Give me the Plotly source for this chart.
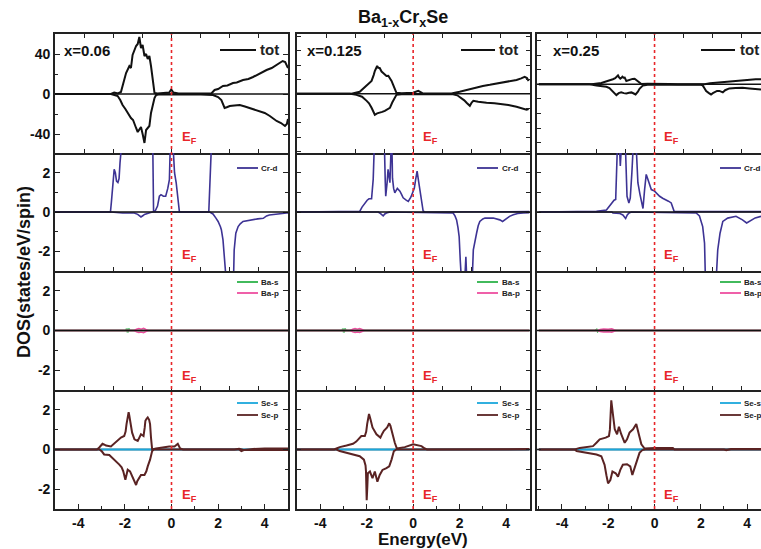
import plotly.graph_objects as go

# ---------------- data (energy in eV, DOS) ----------------
EF = 0.0
COLUMN_LABELS = ["x=0.06", "x=0.125", "x=0.25"]
TITLE = "Ba<sub>1-x</sub>Cr<sub>x</sub>Se"
X_TICKS = [-4, -2, 0, 2, 4]
X_TICK_TEXT = ["-4", "-2", "0", "2", "4"]
TOT_TICKS = [-40, 0, 40]
TOT_TICK_TEXT = ["-40", "0", "40"]
PDOS_TICKS = [-2, 0, 2]
PDOS_TICK_TEXT = ["-2", "0", "2"]

# total DOS, x = 0.06
tot_006_up = [(-5, 0), (-2.6, 0), (-2.46, 1.5), (-2.3, 0.5), (-2.17, 2), (-2.1, 9), (-1.95, 21), (-1.81, 28), (-1.74, 26),
              (-1.67, 39), (-1.52, 48), (-1.45, 50), (-1.38, 57), (-1.31, 46), (-1.24, 49), (-1.16, 38), (-1.09, 40),
              (-1.02, 35), (-0.95, 38), (-0.88, 28), (-0.81, 14), (-0.73, 1), (-0.6, 0.5), (-0.3, 0.8), (-0.1, 1.5),
              (-0.01, 4.5), (0.08, 1.5), (0.3, 0.5), (1.0, 0.3), (1.71, 0.5), (1.85, 4), (2.0, 5), (2.21, 8), (2.4, 8.5),
              (2.64, 11), (2.8, 11.5), (3.07, 14), (3.3, 15), (3.5, 17), (3.65, 19), (3.85, 21), (4.08, 24), (4.3, 26),
              (4.51, 29), (4.65, 31), (4.77, 33), (4.88, 32), (5.0, 26)]
tot_006_dn = [(-5, 0), (-2.6, 0), (-2.45, -1), (-2.31, -2), (-2.2, -6), (-2.1, -11), (-1.98, -15), (-1.88, -19), (-1.74, -24),
              (-1.65, -26), (-1.59, -29), (-1.52, -34), (-1.45, -38), (-1.38, -36), (-1.31, -33), (-1.23, -41), (-1.16, -49),
              (-1.09, -36), (-1.02, -34), (-0.95, -32), (-0.88, -19), (-0.8, -10), (-0.73, -4), (-0.66, -1), (-0.5, -0.3),
              (0, -0.5), (1.0, -0.3), (1.78, -1), (2.0, -3), (2.14, -6), (2.28, -14), (2.4, -13), (2.5, -12), (2.7, -11.5),
              (2.93, -11), (3.15, -12.5), (3.36, -14), (3.6, -15.5), (3.79, -17), (4.0, -19), (4.22, -22), (4.4, -25),
              (4.51, -27), (4.7, -29), (4.87, -32), (4.95, -30), (5.0, -25)]
# total DOS, x = 0.125
tot_0125_up = [(-5, 0), (-2.7, 0), (-2.3, 2.8), (-2.15, 7), (-2.0, 12.4), (-1.88, 15), (-1.79, 17.9), (-1.7, 26), (-1.65, 31.7),
               (-1.55, 38.6), (-1.5, 36), (-1.44, 35.9), (-1.36, 31), (-1.29, 29), (-1.22, 27), (-1.15, 24.8), (-1.07, 25),
               (-1.0, 22.1), (-0.93, 18), (-0.86, 12.4), (-0.78, 5), (-0.72, 1.4), (-0.5, 0.8), (0, 1.5), (0.22, 4.1),
               (0.4, 1), (1.0, 0.5), (1.65, 0.5), (2.0, 3), (2.3, 5.5), (2.6, 7.5), (3.0, 11), (3.3, 12.5), (3.74, 15.2),
               (4.1, 17), (4.45, 19.3), (4.65, 21.5), (4.8, 23.5), (4.9, 22), (4.97, 17.9)]
tot_0125_dn = [(-5, 0), (-2.7, 0), (-2.44, -1.4), (-2.2, -4), (-2.0, -9.7), (-1.9, -13), (-1.79, -19.3), (-1.72, -25),
               (-1.65, -29), (-1.55, -27), (-1.44, -26.2), (-1.33, -25), (-1.22, -23.5), (-1.1, -21), (-1.0, -19.3),
               (-0.9, -12), (-0.79, -5.5), (-0.72, -1.4), (-0.5, -0.5), (1.72, -0.5), (1.9, -2), (2.08, -5.5), (2.2, -9),
               (2.3, -12.4), (2.44, -16.6), (2.52, -12), (2.59, -9.7), (2.8, -11), (3.0, -12), (3.16, -12.4), (3.5, -13),
               (3.74, -13.8), (4.1, -15.5), (4.45, -17.9), (4.7, -20), (4.88, -22.1), (4.97, -21)]
# total DOS, x = 0.25
tot_025_up = [(-5, 0), (-2.8, 0), (-2.3, 2), (-2.01, 4.6), (-1.8, 7), (-1.7, 8.5), (-1.62, 10.6), (-1.58, 12.4), (-1.54, 10),
              (-1.48, 7.8), (-1.43, 9), (-1.39, 10.6), (-1.34, 9), (-1.29, 9.2), (-1.22, 4.6), (-1.15, 5.5), (-1.08, 6.9),
              (-0.95, 7.5), (-0.86, 7.8), (-0.72, 4.6), (-0.57, 0.5), (-0.3, 0.8), (0.3, 1), (0.65, 0.5), (1.0, 0.2),
              (2.16, 0.3), (2.4, 1.5), (2.66, 2.3), (3.0, 2.8), (3.23, 3.2), (3.5, 4.5), (3.8, 5.5), (4.1, 6.2),
              (4.37, 6.9), (4.6, 7)]
tot_025_dn = [(-5, 0), (-2.8, 0), (-2.51, -1.4), (-2.3, -2), (-2.08, -3.2), (-1.95, -5), (-1.8, -9.2), (-1.72, -12),
              (-1.65, -14.7), (-1.55, -12), (-1.44, -11), (-1.33, -12), (-1.22, -12.4), (-1.1, -11.5), (-1.0, -11),
              (-0.9, -12.5), (-0.82, -13.8), (-0.72, -10), (-0.65, -6), (-0.5, -1.4), (-0.3, -0.5), (2.0, -0.5),
              (2.08, -1.4), (2.15, -5), (2.23, -9.2), (2.35, -12), (2.44, -13.8), (2.52, -12), (2.59, -10.6), (2.7, -9),
              (2.8, -9), (2.95, -11), (3.05, -8), (3.23, -5.5), (3.5, -5), (3.8, -4.6), (4.1, -5.5), (4.5, -6.9), (4.6, -7)]

# Cr-d PDOS
crd_006_up = [(-5, 0), (-2.62, 0), (-2.58, 0.5), (-2.53, 1.14), (-2.46, 2.17), (-2.41, 2.0), (-2.36, 1.57), (-2.3, 1.5),
              (-2.25, 1.7), (-2.21, 2.5), (-2.16, 3.5), (-2.1, 6), (-1.8, 8), (-1.4, 9), (-1.0, 7), (-0.82, 5), (-0.79, 2),
              (-0.77, 0.05), (-0.7, 0.05), (-0.6, 0.3), (-0.52, 0.8), (-0.45, 0.88), (-0.35, 0.8), (-0.25, 0.8),
              (-0.16, 1.2), (-0.09, 1.65), (-0.05, 3.5), (-0.03, 6), (0.03, 6), (0.06, 3.5), (0.1, 2.4), (0.13, 2.0),
              (0.2, 1.5), (0.27, 0.7), (0.34, 0), (1.6, 0), (1.64, 1), (1.7, 3.5), (1.8, 6), (2.5, 8), (3.5, 7), (5, 6)]
crd_006_dn = [(-5, 0), (-2.6, 0), (-2.1, -0.05), (-1.6, -0.05), (-1.45, -0.12), (-1.38, -0.18), (-1.31, -0.25),
              (-1.22, -0.18), (-1.16, -0.12), (-0.9, -0.03), (-0.8, 0), (1.64, 0), (1.72, -0.05), (1.78, -0.1), (1.9, -0.3),
              (2.0, -0.48), (2.1, -0.75), (2.14, -0.9), (2.21, -1.42), (2.28, -2.6), (2.33, -3.5), (2.45, -5), (2.6, -4.5),
              (2.66, -3.5), (2.69, -1.93), (2.76, -1.08), (2.86, -0.74), (2.95, -0.6), (3.07, -0.48), (3.3, -0.42),
              (3.5, -0.4), (3.7, -0.35), (3.94, -0.32), (4.08, -0.2), (4.2, -0.15), (4.37, -0.12), (4.6, -0.08),
              (4.94, -0.05), (5, -0.05)]
crd_0125_up = [(-5, 0), (-2.5, 0), (-2.3, 0.03), (-2.2, 0.25), (-2.08, 0.46), (-1.98, 0.6), (-1.9, 0.67), (-1.79, 0.67),
               (-1.72, 1.66), (-1.68, 3.5), (-1.6, 6), (-1.4, 6), (-1.25, 4), (-1.2, 1.5), (-1.18, 0.8), (-1.12, 1.5),
               (-1.08, 2.17), (-1.0, 1.49), (-0.95, 3.5), (-0.93, 4), (-0.9, 2.5), (-0.89, 1.72), (-0.84, 1.2),
               (-0.79, 0.97), (-0.68, 1.2), (-0.57, 1.06), (-0.5, 0.9), (-0.43, 0.72), (-0.3, 0.6), (-0.21, 0.54),
               (-0.1, 0.75), (-0.03, 0.97), (0.05, 1.2), (0.1, 1.6), (0.17, 2.08), (0.23, 1.6), (0.29, 1.14), (0.36, 0.5),
               (0.43, 0.05), (0.5, 0), (5, 0.02)]
crd_0125_dn = [(-5, 0), (-1.5, 0), (-1.44, -0.05), (-1.35, -0.12), (-1.29, -0.2), (-1.22, -0.1), (-1.15, -0.05), (-1.0, 0),
               (1.72, -0.05), (1.8, -0.2), (1.87, -0.4), (1.93, -0.8), (1.98, -1.25), (2.03, -2.5), (2.08, -3.5), (2.2, -4),
               (2.24, -3.2), (2.27, -2.28), (2.3, -3.2), (2.33, -4), (2.5, -4), (2.55, -3.2), (2.59, -1.93), (2.66, -1.4),
               (2.73, -1.08), (2.8, -0.7), (2.87, -0.48), (3.0, -0.35), (3.09, -0.31), (3.45, -0.31), (3.6, -0.35),
               (3.73, -0.4), (3.85, -0.48), (3.95, -0.38), (4.02, -0.31), (4.15, -0.22), (4.31, -0.14), (4.5, -0.08),
               (4.74, -0.05), (5, -0.03)]
crd_025_up = [(-5, 0), (-2.51, 0.03), (-2.08, 0.1), (-1.95, 0.3), (-1.87, 0.46), (-1.75, 0.6), (-1.68, 0.64), (-1.64, 2),
              (-1.61, 3.5), (-1.56, 5), (-1.51, 3.2), (-1.48, 2.34), (-1.44, 3.2), (-1.41, 5), (-1.3, 5), (-1.25, 3),
              (-1.19, 0.8), (-1.11, 0.46), (-1.05, 0.7), (-0.98, 2), (-0.93, 3.5), (-0.85, 5), (-0.78, 3), (-0.72, 1.49),
              (-0.63, 0.9), (-0.57, 0.63), (-0.5, 0.18), (-0.43, 1.14), (-0.36, 1.91), (-0.3, 1.7), (-0.25, 1.49),
              (-0.14, 1.14), (0, 1.06), (0.1, 0.92), (0.22, 0.8), (0.35, 0.7), (0.5, 0.63), (0.6, 0.55), (0.72, 0.46),
              (0.8, 0.2), (0.85, 0.02), (4.6, 0.02)]
crd_025_dn = [(-5, 0), (-1.85, 0), (-1.8, -0.05), (-1.5, -0.08), (-1.37, -0.15), (-1.3, -0.25), (-1.25, -0.33),
              (-1.18, -0.15), (-1.1, -0.05), (-1.0, 0), (1.8, -0.05), (1.94, -0.2), (2.02, -0.45), (2.08, -0.74),
              (2.16, -1.59), (2.2, -3.5), (2.4, -4), (2.66, -3.5), (2.73, -1.93), (2.83, -1.08), (2.95, -0.48),
              (3.16, -0.31), (3.52, -0.22), (3.7, -0.32), (3.8, -0.4), (3.98, -0.56), (4.08, -0.48), (4.17, -0.4),
              (4.35, -0.3), (4.6, -0.22)]

# Ba-s / Ba-p PDOS
bas_006 = [(-5, 0), (-1.95, 0), (-1.92, 0.08), (-1.88, -0.08), (-1.84, 0.08), (-1.8, 0), (5, 0)]
bap_006_up = [(-5, 0), (-1.6, 0), (-1.5, 0.06), (-1.4, 0.1), (-1.3, 0.07), (-1.2, 0.11), (-1.1, 0.05), (-1.0, 0), (5, 0)]
bap_006_dn = [(-5, 0), (-1.6, 0), (-1.5, -0.07), (-1.4, -0.1), (-1.3, -0.08), (-1.2, -0.11), (-1.1, -0.05), (-1.0, 0), (5, 0)]
bas_0125 = [(-5, 0), (-3.05, 0), (-3.02, 0.08), (-2.98, -0.08), (-2.94, 0.08), (-2.9, 0), (5, 0)]
bap_0125_up = [(-5, 0), (-2.7, 0), (-2.6, 0.06), (-2.5, 0.1), (-2.4, 0.07), (-2.3, 0.1), (-2.2, 0.05), (-2.1, 0), (5, 0)]
bap_0125_dn = [(-5, 0), (-2.7, 0), (-2.6, -0.07), (-2.5, -0.1), (-2.4, -0.08), (-2.3, -0.1), (-2.2, -0.05), (-2.1, 0), (5, 0)]
bas_025 = [(-5, 0), (-2.55, 0), (-2.5, 0.04), (-2.46, -0.04), (-2.42, 0), (4.6, 0)]
bap_025_up = [(-5, 0), (-2.45, 0), (-2.35, 0.05), (-2.2, 0.08), (-2.0, 0.06), (-1.85, 0.09), (-1.75, 0.04), (-1.65, 0), (4.6, 0)]
bap_025_dn = [(-5, 0), (-2.45, 0), (-2.35, -0.05), (-2.2, -0.08), (-2.0, -0.06), (-1.85, -0.09), (-1.75, -0.04), (-1.65, 0), (4.6, 0)]

# Se-s / Se-p PDOS
ses_006 = [(-5, 0), (-3.0, 0), (-2.0, -0.01), (-1.0, 0), (5, 0)]
sep_006_up = [(-5, 0), (-3.2, 0), (-3.1, 0.1), (-2.96, 0.29), (-2.88, 0.25), (-2.81, 0.2), (-2.6, 0.15), (-2.5, 0.25),
              (-2.38, 0.35), (-2.25, 0.5), (-2.17, 0.6), (-2.03, 0.68), (-1.97, 0.9), (-1.93, 1.28), (-1.87, 1.7),
              (-1.84, 1.88), (-1.81, 1.7), (-1.78, 1.45), (-1.69, 0.85), (-1.59, 0.51), (-1.45, 0.43), (-1.38, 0.6),
              (-1.31, 0.77), (-1.25, 0.72), (-1.2, 0.68), (-1.15, 1.1), (-1.12, 1.45), (-1.07, 1.55), (-1.02, 1.62),
              (-0.96, 1.5), (-0.92, 1.28), (-0.88, 0.6), (-0.83, 0), (-0.66, 0.05), (-0.4, 0.1), (-0.1, 0.15),
              (0.13, 0.15), (0.27, 0.29), (0.37, 0.05), (0.5, 0), (2.7, 0), (2.9, 0.04), (3.1, -0.02), (3.5, 0.03),
              (4.0, 0.05), (4.5, 0.04), (5, 0.05)]
sep_006_dn = [(-5, 0), (-3.1, 0), (-3.0, -0.08), (-2.89, -0.25), (-2.67, -0.28), (-2.46, -0.5), (-2.35, -0.6), (-2.24, -0.76),
              (-2.14, -0.9), (-2.07, -1.1), (-1.98, -1.53), (-1.93, -1.2), (-1.88, -1.02), (-1.78, -1.1), (-1.7, -1.3),
              (-1.64, -1.45), (-1.57, -1.6), (-1.52, -1.79), (-1.47, -1.6), (-1.41, -1.45), (-1.31, -1.28), (-1.16, -1.28),
              (-1.08, -1.1), (-1.02, -0.85), (-0.92, -0.51), (-0.83, -0.08), (-0.75, 0), (2.9, 0), (3.0, -0.08),
              (3.1, -0.03), (4, -0.04), (5, -0.02)]
ses_0125 = [(-5, 0), (-3.2, 0), (-2.0, -0.01), (-0.8, 0), (5, 0)]
sep_0125_up = [(-5, 0), (-3.4, 0), (-3.3, 0.05), (-3.16, 0.12), (-2.87, 0.2), (-2.59, 0.29), (-2.45, 0.4), (-2.37, 0.51),
               (-2.23, 0.68), (-2.08, 0.68), (-2.02, 0.9), (-1.98, 1.28), (-1.93, 1.6), (-1.9, 1.79), (-1.84, 1.54),
               (-1.75, 1.11), (-1.58, 0.77), (-1.41, 0.6), (-1.33, 0.8), (-1.26, 0.94), (-1.12, 1.11), (-1.03, 1.32),
               (-0.98, 1.2), (-0.93, 0.94), (-0.86, 0.6), (-0.79, 0.34), (-0.7, 0.05), (-0.36, 0.12), (0, 0.26),
               (0.22, 0.2), (0.36, 0.17), (0.5, 0.05), (0.6, 0), (5, 0.02)]
sep_0125_dn = [(-5, 0), (-3.3, 0), (-3.16, -0.08), (-2.87, -0.17), (-2.59, -0.25), (-2.3, -0.34), (-2.12, -0.51),
               (-2.05, -0.8), (-2.03, -1.11), (-2.0, -2.56), (-1.97, -1.8), (-1.95, -1.2), (-1.86, -1.11), (-1.75, -1.45),
               (-1.65, -1.11), (-1.54, -1.62), (-1.44, -1.28), (-1.32, -1.03), (-1.15, -0.94), (-1.03, -0.85),
               (-0.93, -0.51), (-0.83, -0.08), (-0.72, 0), (5, 0)]
ses_025 = [(-5, 0), (-3.4, 0), (-2.0, -0.01), (-0.5, 0), (4.6, 0)]
sep_025_up = [(-5, 0), (-3.45, 0), (-3.23, 0.08), (-2.94, 0.12), (-2.66, 0.17), (-2.5, 0.35), (-2.37, 0.51), (-2.11, 0.6),
              (-1.97, 0.68), (-1.93, 1.0), (-1.91, 1.45), (-1.87, 2.48), (-1.8, 1.79), (-1.72, 1.02), (-1.62, 0.77),
              (-1.54, 1.15), (-1.44, 0.77), (-1.29, 0.34), (-1.19, 0.51), (-1.08, 0.85), (-0.93, 1.02), (-0.79, 1.28),
              (-0.68, 0.77), (-0.57, 0.26), (-0.43, 0.05), (0, 0.08), (0.79, 0.08), (0.86, 0), (3.0, 0), (3.1, -0.04),
              (3.3, 0.02), (4, 0.03), (4.6, 0.03)]
sep_025_dn = [(-5, 0), (-3.45, 0), (-3.37, -0.08), (-2.94, -0.17), (-2.51, -0.25), (-2.3, -0.34), (-2.16, -0.77),
              (-2.08, -1.3), (-2.01, -1.71), (-1.91, -1.54), (-1.82, -1.11), (-1.68, -1.2), (-1.58, -1.37), (-1.48, -1.03),
              (-1.37, -0.77), (-1.19, -0.74), (-1.05, -0.85), (-0.96, -1.28), (-0.86, -0.94), (-0.76, -0.51),
              (-0.65, -0.17), (-0.53, -0.03), (-0.4, 0), (4.6, 0)]

# ---------------- styling ----------------
C_TOT = "#111111"
C_CRD = "#3d3394"
C_BAS = "#2db34a"
C_BAP = "#ee4fa0"
C_SES = "#1aa7dc"
C_SEP = "#5a2323"
C_EF = "#e8262a"
AX = "#222222"
FONT = "Arial, Liberation Sans, sans-serif"

W, H = 761, 549
ML, MR, MT, MB = 55, 0, 34, 40
PW, PH = W - ML - MR, H - MT - MB


def px_x(p):
    return (p - ML) / PW


def px_y(p):
    return (H - MB - p) / PH


COL_PX = [(55, 288), (297, 530), (537, 761)]
ROW_PX = [(34, 153), (153, 271), (271, 390), (390, 509)]
X_RANGES = [[-5, 5], [-5, 5.03], [-5.08, 4.6]]
TOT_RANGES = [[-59, 60], [-82, 83], [-94, 69]]


def aid(r, c):
    n = r * 3 + c + 1
    return "" if n == 1 else str(n)


fig = go.Figure()


def add_curve(pts, r, c, color, width):
    i = aid(r, c)
    fig.add_trace(go.Scatter(x=[p[0] for p in pts], y=[p[1] for p in pts], mode="lines",
                             line=dict(color=color, width=width), xaxis="x" + i, yaxis="y" + i,
                             showlegend=False, hoverinfo="skip"))


panels = [
    [[(tot_006_up, C_TOT, 2), (tot_006_dn, C_TOT, 2)],
     [(tot_0125_up, C_TOT, 2), (tot_0125_dn, C_TOT, 2)],
     [(tot_025_up, C_TOT, 2), (tot_025_dn, C_TOT, 2)]],
    [[(crd_006_dn, C_CRD, 1.6), (crd_006_up, C_CRD, 1.6)],
     [(crd_0125_dn, C_CRD, 1.6), (crd_0125_up, C_CRD, 1.6)],
     [(crd_025_dn, C_CRD, 1.6), (crd_025_up, C_CRD, 1.6)]],
    [[(bas_006, C_BAS, 2.2), (bap_006_up, C_BAP, 1.5), (bap_006_dn, C_BAP, 1.5)],
     [(bas_0125, C_BAS, 2.2), (bap_0125_up, C_BAP, 1.5), (bap_0125_dn, C_BAP, 1.5)],
     [(bas_025, C_BAS, 2.2), (bap_025_up, C_BAP, 1.5), (bap_025_dn, C_BAP, 1.5)]],
    [[(ses_006, C_SES, 1.8), (sep_006_up, C_SEP, 2), (sep_006_dn, C_SEP, 2)],
     [(ses_0125, C_SES, 1.8), (sep_0125_up, C_SEP, 2), (sep_0125_dn, C_SEP, 2)],
     [(ses_025, C_SES, 1.8), (sep_025_up, C_SEP, 2), (sep_025_dn, C_SEP, 2)]],
]

for r in range(4):
    for c in range(3):
        for pts, color, width in panels[r][c]:
            add_curve(pts, r, c, color, width)

layout_axes = {}
shapes = []
annotations = []
tickfont = dict(family=FONT, size=14, color="#111", weight="bold")

for r in range(4):
    for c in range(3):
        i = aid(r, c)
        x0, x1 = COL_PX[c]
        y0, y1 = ROW_PX[r]
        xdom = [max(0, px_x(x0)), min(1, px_x(x1))]
        ydom = [max(0, px_y(y1)), min(1, px_y(y0))]
        xa = dict(domain=xdom, range=X_RANGES[c], anchor="y" + i, showline=True, linecolor=AX, linewidth=1.7,
                  ticks="inside", ticklen=4, tickwidth=1.2, tickcolor=AX, showgrid=False, zeroline=False,
                  tickfont=tickfont, fixedrange=True)
        if r == 3:
            xa.update(mirror=False, tickmode="array", tickvals=X_TICKS, ticktext=X_TICK_TEXT,
                      showticklabels=True, ticklen=5,
                      minor=dict(tickmode="array", tickvals=[-5, -3, -1, 1, 3, 5], ticks="inside",
                                 ticklen=3, tickcolor=AX, tickwidth=1.2))
        else:
            xa.update(mirror=("ticks" if r == 0 else False), tickmode="array",
                      tickvals=[-3.75, -2.5, -1.25, 0, 1.25, 2.5, 3.75], showticklabels=False)
        ya = dict(domain=ydom, anchor="x" + i, showline=True, linecolor=AX, linewidth=1.7,
                  ticks="inside", ticklen=4, tickwidth=1.2, tickcolor=AX, showgrid=False, zeroline=False,
                  tickfont=tickfont, mirror=("ticks" if c < 2 else False), fixedrange=True)
        if r == 0:
            ya["range"] = TOT_RANGES[c]
            if c == 0:
                ya.update(tickmode="array", tickvals=TOT_TICKS, ticktext=TOT_TICK_TEXT, ticklen=5,
                          minor=dict(tickmode="array", tickvals=[-20, 20], ticks="inside", ticklen=3,
                                     tickcolor=AX, tickwidth=1.2))
            else:
                ya.update(tickmode="array", tickvals=[-80, -60, -40, -20, 0, 20, 40, 60, 80],
                          showticklabels=False)
        else:
            ya["range"] = [-3, 3]
            if c == 0:
                ya.update(tickmode="array", tickvals=PDOS_TICKS, ticktext=PDOS_TICK_TEXT, ticklen=5,
                          minor=dict(tickmode="array", tickvals=[-1, 1], ticks="inside", ticklen=3,
                                     tickcolor=AX, tickwidth=1.2))
            else:
                ya.update(tickmode="array", tickvals=[-2, -1, 0, 1, 2], showticklabels=False)
        layout_axes["xaxis" + i] = xa
        layout_axes["yaxis" + i] = ya
        shapes.append(dict(type="line", xref="x" + i + " domain", yref="y" + i, x0=0, x1=1, y0=0, y1=0,
                           line=dict(color="#111", width=1.5), layer=("below" if r == 3 else "above")))

for c in range(3):
    i = aid(0, c)
    shapes.append(dict(type="line", xref="x" + i, yref="paper", x0=EF, x1=EF, y0=0, y1=1,
                       line=dict(color=C_EF, width=1.6, dash="dot"), layer="above"))

EF_LABEL_X = [180, 421, 662]
EF_LABEL_Y = [137, 256, 376, 495]
for c in range(3):
    for r in range(4):
        annotations.append(dict(text="E<sub>F</sub>", x=px_x(EF_LABEL_X[c]), y=px_y(EF_LABEL_Y[r]),
                                xref="paper", yref="paper", xanchor="left", yanchor="middle", showarrow=False,
                                font=dict(family=FONT, size=13, color=C_EF, weight="bold")))

LABEL_X = [62, 305, 551]
for c in range(3):
    annotations.append(dict(text=COLUMN_LABELS[c], x=px_x(LABEL_X[c]), y=px_y(51), xref="paper", yref="paper",
                            xanchor="left", yanchor="middle", showarrow=False,
                            font=dict(family=FONT, size=15, color="#111", weight="bold")))

LEG_BIG = [(220, 256, 258), (461, 495, 497), (701, 735, 738)]
LEG_SMALL = [(237, 258, 259), (477, 498, 500), (720, 741, 742)]
legend_rows = [
    [("tot", C_TOT, 50)],
    [("Cr-d", C_CRD, 168)],
    [("Ba-s", C_BAS, 282), ("Ba-p", C_BAP, 293)],
    [("Se-s", C_SES, 403), ("Se-p", C_SEP, 415)],
]
for r, entries in enumerate(legend_rows):
    for c in range(3):
        lx0, lx1, tx = (LEG_BIG if r == 0 else LEG_SMALL)[c]
        for name, color, ly in entries:
            shapes.append(dict(type="line", xref="paper", yref="paper", x0=px_x(lx0), x1=px_x(lx1),
                               y0=px_y(ly), y1=px_y(ly), line=dict(color=color, width=2 if r == 0 else 1.8),
                               layer="above"))
            annotations.append(dict(text=name, x=px_x(tx), y=px_y(ly), xref="paper", yref="paper",
                                    xanchor="left", yanchor="middle", showarrow=False,
                                    font=dict(family=FONT, size=(15 if r == 0 else 8), color="#222",
                                              weight="bold")))

annotations.append(dict(text=TITLE, x=px_x(403), y=px_y(18), xref="paper", yref="paper", xanchor="center",
                        yanchor="middle", showarrow=False,
                        font=dict(family=FONT, size=18, color="#111", weight="bold")))
annotations.append(dict(text="Energy(eV)", x=px_x(423), y=px_y(539), xref="paper", yref="paper",
                        xanchor="center", yanchor="middle", showarrow=False,
                        font=dict(family=FONT, size=17, color="#111", weight="bold")))
annotations.append(dict(text="DOS(states/eV/spin)", x=px_x(24), y=px_y(272), xref="paper", yref="paper",
                        xanchor="center", yanchor="middle", textangle=-90, showarrow=False,
                        font=dict(family=FONT, size=18, color="#111", weight="bold")))

fig.update_layout(width=W, height=H, margin=dict(l=ML, r=MR, t=MT, b=MB), paper_bgcolor="white",
                  plot_bgcolor="white", showlegend=False, shapes=shapes, annotations=annotations,
                  **layout_axes)

fig.write_html("out.html", config={"displayModeBar": False},
               post_script="document.body.style.margin='0';document.body.style.padding='0';")
